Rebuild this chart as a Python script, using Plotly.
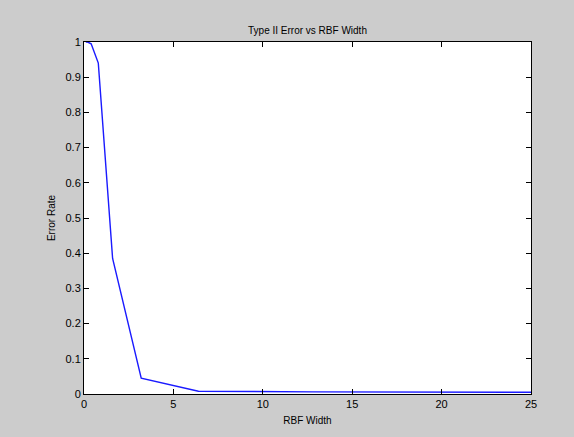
import plotly.graph_objects as go

rbf_width = [0.1, 0.2, 0.4, 0.8, 1.6, 3.2, 6.4, 12.8, 25.6]
error_rate = [1.0, 1.0, 0.995, 0.94, 0.385, 0.045, 0.008, 0.006, 0.005]

x_ticks = [0, 5, 10, 15, 20, 25]
y_ticks = [0, 0.1, 0.2, 0.3, 0.4, 0.5, 0.6, 0.7, 0.8, 0.9, 1]
y_labels = ["0", "0.1", "0.2", "0.3", "0.4", "0.5", "0.6", "0.7", "0.8", "0.9", "1"]

fig = go.Figure()
fig.add_trace(go.Scatter(x=rbf_width, y=error_rate, mode="lines",
                         line=dict(color="#1a1aff", width=1.4), showlegend=False))

axis_common = dict(showline=True, linecolor="black", linewidth=1, mirror="ticks",
                   ticks="inside", ticklen=5, tickcolor="black", showgrid=False,
                   zeroline=False, tickfont=dict(family="Arial", size=11, color="black"))

fig.update_layout(
    width=574, height=437,
    paper_bgcolor="#cccccc", plot_bgcolor="white",
    margin=dict(l=84, r=43, t=42, b=43),
    title=dict(text="Type II Error vs RBF Width", x=0.5, xref="paper", xanchor="center",
               y=1, yref="container", yanchor="top", pad=dict(t=27),
               font=dict(family="Arial", size=10, color="black")),
    xaxis=dict(range=[0, 25], tickvals=x_ticks, ticktext=[str(v) for v in x_ticks],
               title=dict(text="RBF Width", font=dict(family="Arial", size=10, color="black"), standoff=7),
               **axis_common),
    yaxis=dict(range=[0, 1], tickvals=y_ticks, ticktext=y_labels,
               title=dict(text="Error Rate", font=dict(family="Arial", size=10, color="black"), standoff=8),
               **axis_common),
)

fig.write_html("out.html")
